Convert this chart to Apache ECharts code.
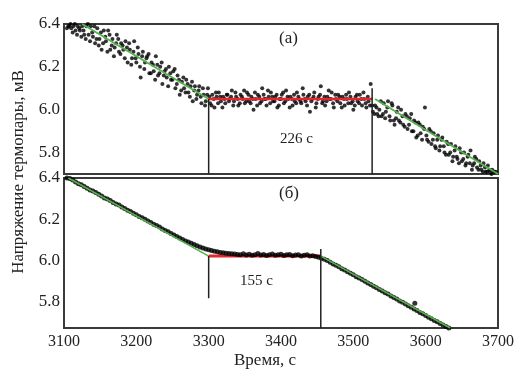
<!DOCTYPE html>
<html><head><meta charset="utf-8">
<script src="https://cdn.jsdelivr.net/npm/echarts@6/dist/echarts.min.js"></script>
<style>html,body{margin:0;padding:0;background:#fff}#c{width:524px;height:378px}</style>
</head><body><div id="c"></div>
<script>
// ---- data ----
const xTicks = [3100, 3200, 3300, 3400, 3500, 3600, 3700];
const yTicks = [5.8, 6.0, 6.2, 6.4];
const panelLabels = ['(a)', '(б)'];
const durationLabels = ['226 с', '155 с'];
const xAxisTitle = 'Время, с';
const yAxisTitle = 'Напряжение термопары, мВ';

// panel (a): noisy thermocouple readings
const topPoints = [
[3104,6.38],[3107,6.39],[3110,6.38],[3113,6.39],[3116,6.37],[3119,6.39],[3122,6.37],[3125,6.39],[3128,6.35],[3131,6.39],
[3134,6.35],[3137,6.39],[3140,6.34],[3143,6.31],[3146,6.38],[3149,6.33],[3152,6.28],[3155,6.37],[3158,6.32],[3161,6.37],
[3164,6.28],[3167,6.33],[3170,6.29],[3173,6.35],[3176,6.27],[3179,6.31],[3182,6.28],[3185,6.32],[3188,6.22],[3191,6.28],
[3194,6.24],[3197,6.32],[3200,6.22],[3203,6.26],[3206,6.15],[3209,6.27],[3212,6.22],[3215,6.25],[3218,6.17],[3221,6.22],
[3224,6.18],[3227,6.25],[3230,6.16],[3233,6.20],[3236,6.12],[3239,6.18],[3242,6.15],[3245,6.20],[3248,6.14],[3251,6.18],
[3254,6.10],[3257,6.16],[3260,6.07],[3263,6.13],[3266,6.10],[3269,6.14],[3272,6.08],[3275,6.11],[3278,6.04],[3281,6.11],
[3284,6.07],[3287,6.11],[3290,6.03],[3293,6.07],[3296,6.04],[3299,6.10],
[3302,6.03],[3305,6.07],[3308,6.01],[3311,6.06],[3314,6.08],[3317,6.04],[3320,6.06],[3323,6.03],[3326,6.07],[3329,6.05],
[3332,6.09],[3335,6.04],[3338,6.06],[3341,6.02],[3344,6.07],[3347,6.05],[3350,6.03],[3353,6.08],[3356,6.04],[3359,6.06],
[3362,6.00],[3365,6.05],[3368,6.07],[3371,6.03],[3374,6.10],[3377,6.05],[3380,6.02],[3383,6.06],[3386,6.08],[3389,6.04],
[3392,6.06],[3395,6.01],[3398,6.05],[3401,6.07],[3404,6.03],[3407,6.09],[3410,6.05],[3413,6.06],[3416,6.02],[3419,6.04],
[3422,6.08],[3425,6.05],[3428,6.03],[3431,6.07],[3434,6.04],[3437,6.06],[3440,5.99],[3443,6.05],[3446,6.08],[3449,6.03],
[3452,6.06],[3455,6.11],[3458,6.04],[3461,6.02],[3464,6.06],[3467,6.05],[3470,6.08],[3473,6.01],[3476,6.05],[3479,6.07],
[3482,6.03],[3485,6.06],[3488,6.02],[3491,6.05],[3494,6.08],[3497,6.03],[3500,6.00],[3503,6.06],[3506,6.04],[3509,6.07],
[3512,6.02],[3515,6.05],[3518,6.01],[3521,6.04],[3524,6.12],
[3527,5.99],[3530,6.02],[3533,5.98],[3536,6.00],[3539,5.97],[3542,6.03],[3545,5.99],[3548,6.04],[3551,5.95],[3554,6.02],
[3557,5.93],[3560,5.99],[3563,5.95],[3566,6.00],[3569,5.93],[3572,5.98],[3575,5.91],[3578,5.96],[3581,5.90],[3584,5.95],
[3587,5.87],[3590,5.94],[3593,5.89],[3596,5.92],[3599,6.01],[3602,5.86],[3605,5.91],[3608,5.84],[3611,5.89],[3614,5.82],
[3617,5.88],[3620,5.83],[3623,5.87],[3626,5.80],[3629,5.85],[3632,5.79],[3635,5.84],[3638,5.78],[3641,5.83],[3644,5.77],
[3647,5.82],[3650,5.76],[3653,5.80],[3656,5.75],[3659,5.79],[3662,5.81],[3665,5.74],[3668,5.78],[3671,5.73],[3674,5.76],
[3677,5.72],[3680,5.75],[3683,5.71],[3686,5.74],[3689,5.71],[3692,5.72],[3695,5.71]
];
const topPointsB = [
[3106,6.39],[3109,6.40],[3112,6.36],[3115,6.40],[3118,6.35],[3121,6.38],[3124,6.34],[3127,6.37],[3130,6.33],[3133,6.40],
[3136,6.32],[3139,6.36],[3142,6.39],[3145,6.33],[3148,6.30],[3151,6.36],[3154,6.31],[3157,6.34],[3160,6.27],[3163,6.35],
[3166,6.30],[3169,6.25],[3172,6.31],[3175,6.33],[3178,6.26],[3181,6.30],[3184,6.24],[3187,6.29],[3190,6.31],[3193,6.21],
[3196,6.27],[3199,6.24],[3202,6.29],[3205,6.20],[3208,6.25],[3211,6.19],[3214,6.24],[3217,6.26],[3220,6.17],[3223,6.21],
[3226,6.14],[3229,6.21],[3232,6.17],[3235,6.22],[3238,6.16],[3241,6.19],[3244,6.11],[3247,6.17],[3250,6.14],[3253,6.19],
[3256,6.12],[3259,6.14],[3262,6.09],[3265,6.15],[3268,6.08],[3271,6.12],[3274,6.06],[3277,6.13],[3280,6.09],[3283,6.05],
[3286,6.09],[3289,6.06],[3292,6.10],[3295,6.02],[3298,6.07],
[3301,6.06],[3304,6.02],[3307,6.05],[3310,6.08],[3313,6.03],[3316,6.06],[3319,6.01],[3322,6.05],[3325,6.07],[3328,6.04],
[3331,6.06],[3334,6.02],[3337,6.08],[3340,6.05],[3343,6.03],[3346,6.06],[3349,6.09],[3352,6.04],[3355,6.07],[3358,6.03],
[3361,6.05],[3364,6.08],[3367,6.02],[3370,6.06],[3373,6.04],[3376,6.07],[3379,6.05],[3382,6.09],[3385,6.03],[3388,6.06],
[3391,6.04],[3394,6.07],[3397,6.02],[3400,6.05],[3403,6.08],[3406,6.04],[3409,6.06],[3412,6.01],[3415,6.05],[3418,6.07],
[3421,6.03],[3424,6.06],[3427,6.04],[3430,6.10],[3433,6.05],[3436,6.02],[3439,6.07],[3442,6.04],[3445,6.06],[3448,6.01],
[3451,6.05],[3454,6.07],[3457,6.03],[3460,6.06],[3463,6.04],[3466,6.09],[3469,6.05],[3472,6.03],[3475,6.07],[3478,6.04],
[3481,6.06],[3484,6.01],[3487,6.05],[3490,6.07],[3493,6.03],[3496,6.06],[3499,6.04],[3502,6.02],[3505,6.07],[3508,6.03],
[3511,6.05],[3514,6.08],[3517,6.03],[3520,6.06],[3523,6.02],
[3526,6.02],[3529,5.98],[3532,6.01],[3535,5.97],[3538,6.04],[3541,5.98],[3544,5.96],[3547,6.01],[3550,5.97],[3553,6.03],
[3556,5.95],[3559,5.96],[3562,6.01],[3565,5.94],[3568,5.97],[3571,5.92],[3574,5.97],[3577,5.93],[3580,5.98],[3583,5.90],
[3586,5.94],[3589,5.88],[3592,5.93],[3595,5.86],[3598,5.91],[3601,5.88],[3604,5.85],[3607,5.90],[3610,5.86],[3613,5.83],
[3616,5.86],[3619,5.81],[3622,5.86],[3625,5.83],[3628,5.79],[3631,5.84],[3634,5.80],[3637,5.76],[3640,5.81],[3643,5.78],
[3646,5.75],[3649,5.80],[3652,5.77],[3655,5.74],[3658,5.78],[3661,5.75],[3664,5.72],[3667,5.75],[3670,5.77],[3673,5.72],
[3676,5.74],[3679,5.71],[3682,5.73],[3685,5.71],[3688,5.72],[3691,5.70],[3694,5.71],[3697,5.71]
];
const topFitBefore = [[3125, 6.40], [3300, 6.05]];
const topFitAfter = [[3530, 6.05], [3700, 5.70]];
const topPlateau = [[3300, 6.05], [3526, 6.05]];
const topMarkers = [[[3300, 6.05], [3300, 5.70]], [[3526, 6.10], [3526, 5.70]]];

// panel (б): smoother readings
const bottomPoints = [
[3104,6.400],[3108,6.398],[3112,6.390],[3116,6.381],[3120,6.372],[3124,6.367],[3128,6.359],[3132,6.350],[3136,6.342],[3140,6.337],
[3144,6.329],[3148,6.321],[3152,6.312],[3156,6.303],[3160,6.298],[3164,6.290],[3168,6.281],[3172,6.273],[3176,6.268],[3180,6.259],
[3184,6.251],[3188,6.243],[3192,6.237],[3196,6.229],[3200,6.221],[3204,6.213],[3208,6.207],[3212,6.199],[3216,6.191],[3220,6.183],
[3224,6.175],[3228,6.169],[3232,6.161],[3236,6.152],[3240,6.145],[3244,6.138],[3248,6.130],[3252,6.122],[3256,6.115],[3260,6.108],
[3264,6.101],[3268,6.094],[3272,6.088],[3276,6.082],[3280,6.076],[3284,6.070],[3288,6.064],[3292,6.059],[3296,6.055],[3300,6.051],
[3304,6.047],[3308,6.044],[3312,6.041],[3316,6.038],[3320,6.036],[3324,6.034],[3328,6.032],[3332,6.031],[3336,6.030],[3340,6.028],
[3344,6.026],[3348,6.031],[3352,6.025],[3356,6.029],[3360,6.024],[3364,6.027],[3368,6.032],[3372,6.025],[3376,6.028],[3380,6.023],
[3384,6.027],[3388,6.030],[3392,6.024],[3396,6.026],[3400,6.029],[3404,6.023],[3408,6.026],[3412,6.028],[3416,6.022],[3420,6.025],
[3424,6.027],[3428,6.021],[3432,6.024],[3436,6.026],[3440,6.020],[3444,6.022],[3448,6.018],[3452,6.014],[3456,6.010],[3460,6.005],
[3464,5.999],[3468,5.990],[3472,5.982],[3476,5.975],[3480,5.968],[3484,5.958],[3488,5.952],[3492,5.944],[3496,5.936],[3500,5.929],
[3504,5.920],[3508,5.913],[3512,5.906],[3516,5.897],[3520,5.889],[3524,5.882],[3528,5.873],[3532,5.866],[3536,5.857],[3540,5.850],
[3544,5.842],[3548,5.835],[3552,5.826],[3556,5.818],[3560,5.811],[3564,5.802],[3568,5.795],[3572,5.787],[3576,5.778],[3580,5.771],
[3584,5.762],[3585,5.790],[3588,5.755],[3592,5.746],[3596,5.739],[3600,5.731],[3604,5.722],[3608,5.715],[3612,5.707],[3616,5.700],
[3620,5.692],[3624,5.684],[3628,5.677],[3632,5.670]
];
const bottomFitBefore = [[3106, 6.40], [3300, 6.02]];
const bottomFitAfter = [[3455, 6.02], [3634, 5.67]];
const bottomPlateau = [[3300, 6.02], [3455, 6.02]];
const bottomMarkers = [[[3300, 6.02], [3300, 5.815]], [[3455, 6.055], [3455, 5.67]]];

const topRange = [5.70, 6.40];
const bottomRange = [5.67, 6.40];

// ---- chart ----
const FONT = '"Liberation Serif", "DejaVu Serif", serif';
const GREEN = '#55b14c', RED = '#e5262e', DARK = '#222';
const chart = echarts.init(document.getElementById('c'), null, {renderer: 'canvas'});

function xAx(idx, showLabels) {
  return {
    type: 'value', gridIndex: idx, min: xTicks[0], max: xTicks[xTicks.length - 1], interval: 100,
    axisLine: {show: false}, axisTick: {show: false}, splitLine: {show: false},
    axisLabel: {show: showLabels, color: DARK, fontFamily: FONT, fontSize: 16, margin: 6,
      formatter: v => String(v)}
  };
}
function yAx(idx, range) {
  return {
    type: 'value', gridIndex: idx, min: range[0], max: range[1],
    axisLine: {show: false}, axisTick: {show: false}, splitLine: {show: false},
    axisLabel: {color: DARK, fontFamily: FONT, fontSize: 17, margin: 4, customValues: yTicks,
      formatter: v => v.toFixed(1)}
  };
}
function seg(data, idx, color, width, z) {
  return {type: 'line', xAxisIndex: idx, yAxisIndex: idx, data: data, symbol: 'none',
    lineStyle: {color: color, width: width}, z: z, silent: true};
}
function markers(list, idx) {
  return list.map(d => seg(d, idx, DARK, 1.5, 6));
}
function dots(data, idx, size) {
  return {type: 'scatter', xAxisIndex: idx, yAxisIndex: idx, data: data, symbolSize: size,
    itemStyle: {color: '#000'}, z: 3, clip: true, silent: true};
}

chart.setOption({
  animation: false,
  grid: [
    {left: 64, top: 24, width: 434, height: 150, show: true, borderColor: '#3a3a3a', borderWidth: 2, backgroundColor: 'transparent'},
    {left: 64, top: 178, width: 434, height: 150, show: true, borderColor: '#3a3a3a', borderWidth: 2, backgroundColor: 'transparent'}
  ],
  xAxis: [xAx(0, false), xAx(1, true)],
  yAxis: [yAx(0, topRange), yAx(1, bottomRange)],
  series: [
    dots(topPoints, 0, 4),
    dots(topPointsB, 0, 4),
    seg(topFitBefore, 0, GREEN, 1.8, 5),
    seg(topFitAfter, 0, GREEN, 1.8, 5),
    seg(topPlateau, 0, RED, 2.5, 5),
    ...markers(topMarkers, 0),
    seg(bottomPlateau, 1, RED, 3, 2),
    dots(bottomPoints, 1, 5),
    seg(bottomFitBefore, 1, GREEN, 1.6, 5),
    seg(bottomFitAfter, 1, GREEN, 1.6, 5),
    ...markers(bottomMarkers, 1)
  ],
  graphic: [
    {type: 'text', left: 279, top: 30, style: {text: panelLabels[0], font: '17px ' + FONT, fill: DARK}},
    {type: 'text', left: 279, top: 185, style: {text: panelLabels[1], font: '17px ' + FONT, fill: DARK}},
    {type: 'text', left: 280, top: 132, style: {text: durationLabels[0], font: '15px ' + FONT, fill: DARK}},
    {type: 'text', left: 240, top: 274, style: {text: durationLabels[1], font: '15px ' + FONT, fill: DARK}},
    {type: 'text', left: 234, top: 352, style: {text: xAxisTitle, font: '17px ' + FONT, fill: DARK}},
    {type: 'text', x: 19, y: 172, rotation: Math.PI / 2,
      style: {text: yAxisTitle, font: '17px ' + FONT, fill: DARK, align: 'center', verticalAlign: 'middle'}}
  ]
});
</script>
</body></html>
